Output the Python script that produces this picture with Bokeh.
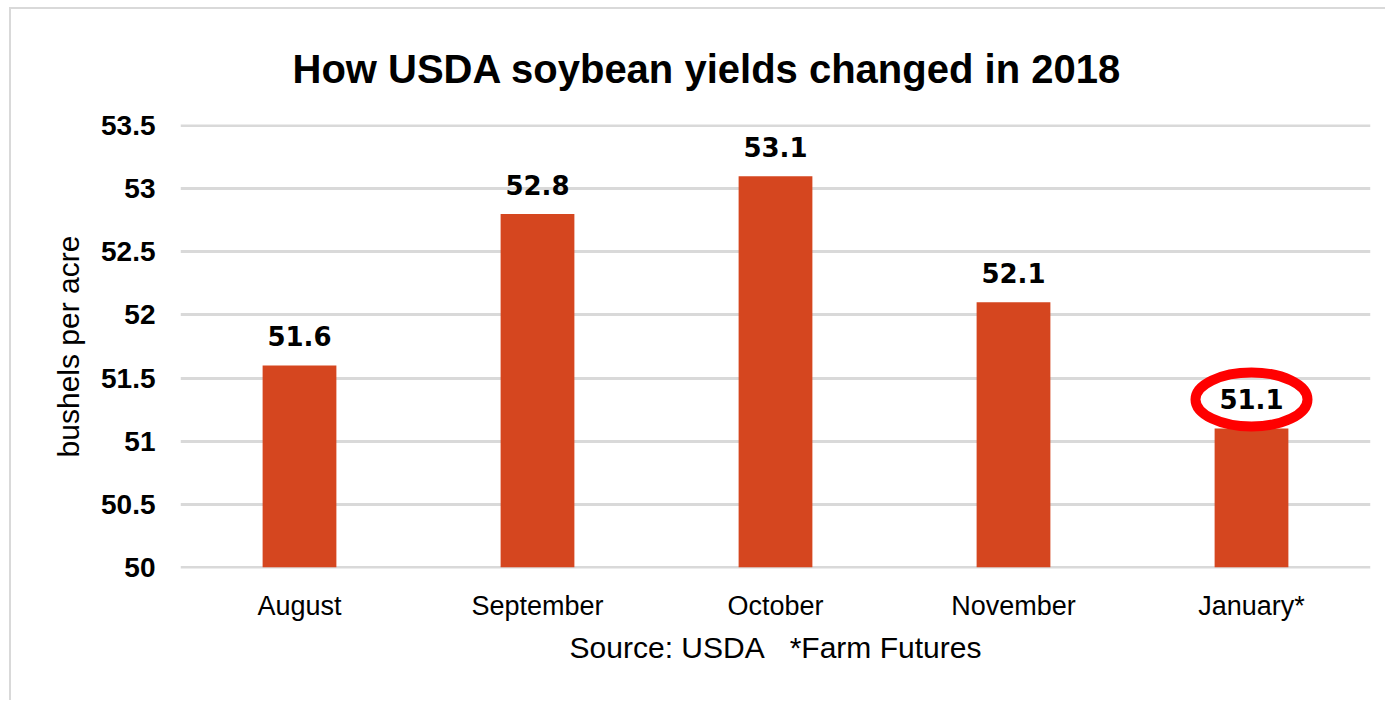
from bokeh.plotting import figure
from bokeh.models import ColumnDataSource, Range1d, FixedTicker
from bokeh.core.properties import value
from bokeh.embed import file_html
from bokeh.resources import INLINE

months = ["August", "September", "October", "November", "January*"]
yields = [51.6, 52.8, 53.1, 52.1, 51.1]
labels = ["51.6", "52.8", "53.1", "52.1", "51.1"]
y_ticks = [50, 50.5, 51, 51.5, 52, 52.5, 53, 53.5]
highlight = "January*"

src = ColumnDataSource(dict(month=months, yld=yields, lab=labels))

p = figure(x_range=months, y_range=Range1d(49.99, 53.51),
           width=1376, height=693, output_backend="svg", toolbar_location=None,
           min_border_left=169, min_border_right=17, min_border_top=115,
           min_border_bottom=134)
p.styles = {"margin-left": "9px", "margin-top": "7px",
            "border-left": "2px solid #d9d9d9", "border-top": "2px solid #d9d9d9"}

p.title.text = "How USDA soybean yields changed in 2018"
p.title.align = "left"
p.title.offset = 112
p.title.text_font = "Liberation Sans"
p.title.text_font_size = "40px"
p.title.text_font_style = "bold"
p.title.text_color = "#000000"
p.title.standoff = 68

p.outline_line_color = None
p.xgrid.grid_line_color = None
p.ygrid.grid_line_color = "#d9d9d9"
p.ygrid.grid_line_width = 3

p.vbar(x="month", top="yld", bottom=50, width=0.31, source=src,
       fill_color="#d5461f", line_color=None)

p.text(x="month", y="yld", text="lab", source=src, text_align="center",
       text_baseline="bottom", y_offset=-19, text_font=value("DejaVu Sans"),
       text_font_size="26px", text_font_style="bold", text_color="#000000")

idx = months.index(highlight)
p.ellipse(x=[highlight], y=[yields[idx] + 0.23], width=112, height=54,
          width_units="screen", height_units="screen",
          fill_color=None, line_color="#ff0000", line_width=10)

p.yaxis.ticker = FixedTicker(ticks=y_ticks)
p.yaxis.major_label_overrides = {50: "50", 51: "51", 52: "52", 53: "53"}
p.yaxis.axis_line_color = None
p.yaxis.major_tick_line_color = None
p.yaxis.minor_tick_line_color = None
p.yaxis.major_label_text_font = "Liberation Sans"
p.yaxis.major_label_text_font_size = "28px"
p.yaxis.major_label_text_font_style = "bold"
p.yaxis.major_label_text_color = "#000000"
p.yaxis.major_label_standoff = 19
p.yaxis.axis_label = "bushels per acre"
p.yaxis.axis_label_text_font = "Liberation Sans"
p.yaxis.axis_label_text_font_size = "30px"
p.yaxis.axis_label_text_font_style = "normal"
p.yaxis.axis_label_text_color = "#000000"
p.yaxis.axis_label_standoff = 13

p.xaxis.axis_line_color = None
p.xaxis.major_tick_line_color = None
p.xaxis.major_label_text_font = "Liberation Sans"
p.xaxis.major_label_text_font_size = "27px"
p.xaxis.major_label_text_color = "#000000"
p.xaxis.major_label_standoff = 16
p.xaxis.axis_label = "Source: USDA\u00a0\u00a0\u00a0*Farm Futures"
p.xaxis.axis_label_text_font = "Liberation Sans"
p.xaxis.axis_label_text_font_size = "30px"
p.xaxis.axis_label_text_font_style = "normal"
p.xaxis.axis_label_text_color = "#000000"
p.xaxis.axis_label_standoff = 7

open("out.html", "w").write(file_html(p, INLINE))
